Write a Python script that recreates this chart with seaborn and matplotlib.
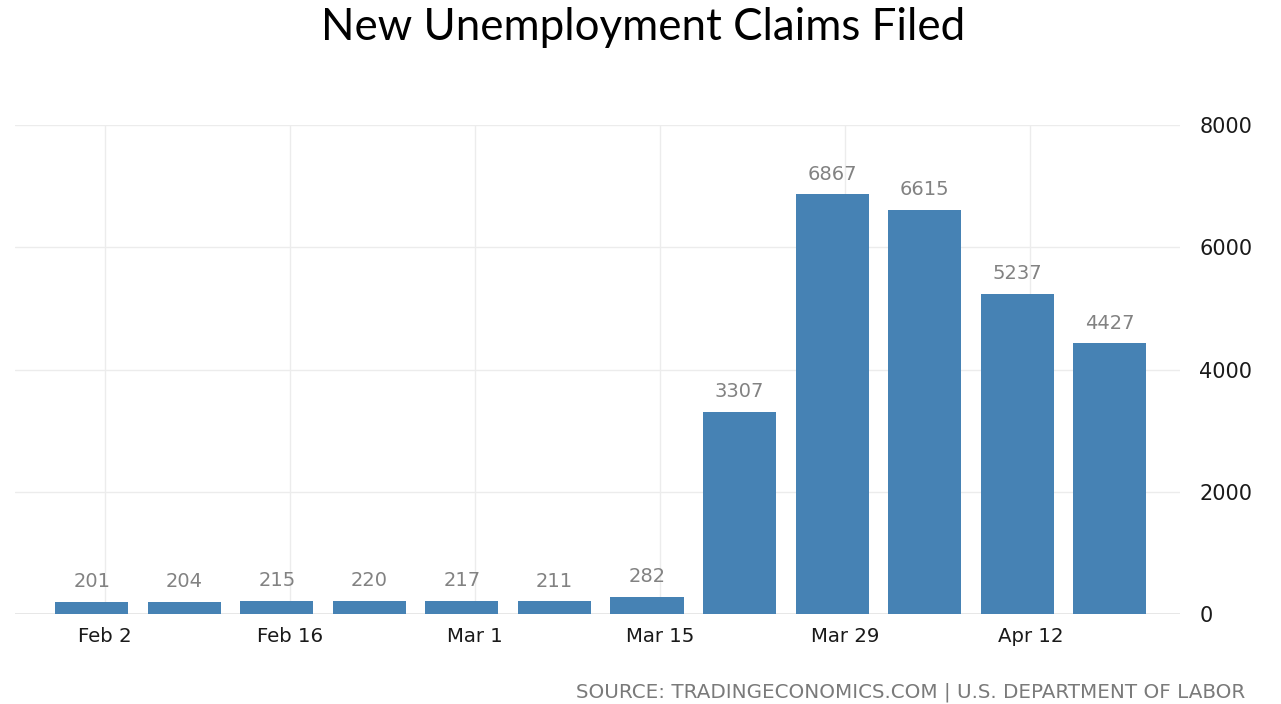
import matplotlib
matplotlib.use("Agg")
import matplotlib.pyplot as plt
import seaborn as sns
import pandas as pd
import numpy as np
from datetime import date

# ---- data ----
week_ending = ["2020-02-01", "2020-02-08", "2020-02-15", "2020-02-22", "2020-02-29",
               "2020-03-07", "2020-03-14", "2020-03-21", "2020-03-28", "2020-04-04",
               "2020-04-11", "2020-04-18"]
claims = [201, 204, 215, 220, 217, 211, 282, 3307, 6867, 6615, 5237, 4427]
tick_dates = ["2020-02-02", "2020-02-16", "2020-03-01", "2020-03-15", "2020-03-29", "2020-04-12"]
tick_labels = ["Feb 2", "Feb 16", "Mar 1", "Mar 15", "Mar 29", "Apr 12"]
y_ticks = [0, 2000, 4000, 6000, 8000]
title = "New Unemployment Claims Filed"
source = "SOURCE: TRADINGECONOMICS.COM | U.S. DEPARTMENT OF LABOR"

df = pd.DataFrame({"week": week_ending, "claims": claims})

sns.set_theme(style="white")
plt.rcParams['font.family'] = ['DejaVu Sans']

fig = plt.figure(figsize=(12.81, 7.04), dpi=100)
ax = fig.add_axes([15/1281, 1-614/704, (1180-15)/1281, (614-125)/704])

sns.barplot(data=df, x="week", y="claims", color="#4682b4", width=0.79,
            saturation=1, linewidth=0, ax=ax, zorder=2)

# value labels
for i, v in enumerate(claims):
    ax.text(i, v + 170, f"{v}", ha="center", va="bottom", fontsize=14,
            color="#828282")

# x ticks at dates relative to first week
d0 = date.fromisoformat(week_ending[0])
tpos = [(date.fromisoformat(t) - d0).days / 7 for t in tick_dates]
ax.set_xticks(tpos)
ax.set_xticklabels(tick_labels, fontsize=14.2, color="#1a1a1a")
ax.set_xlim(-0.83, len(claims) - 1 + 0.76)

ax.set_ylim(0, 8000)
ax.set_yticks(y_ticks)
ax.set_yticklabels([str(t) for t in y_ticks], fontsize=15, color="#1a1a1a")
ax.yaxis.tick_right()
ax.tick_params(axis="y", length=0, pad=14)
ax.tick_params(axis="x", length=0, pad=9)

ax.grid(True, color="#ececec", linewidth=1, zorder=0)
ax.set_axisbelow(True)
for s in ax.spines.values():
    s.set_visible(False)
ax.axhline(0, color="#e3e3e3", linewidth=1.2, zorder=1)
ax.set_xlabel("")
ax.set_ylabel("")

fig.text(643/1281, 1-28/704, title, ha="center", va="center", fontsize=31.6,
         family="Lato", color="#000000")
fig.text(1245/1281, 1-692/704, source, ha="right", va="center", fontsize=14.3,
         color="#7a7a7a", family="DejaVu Sans")

fig.savefig("out.png", dpi=100)
